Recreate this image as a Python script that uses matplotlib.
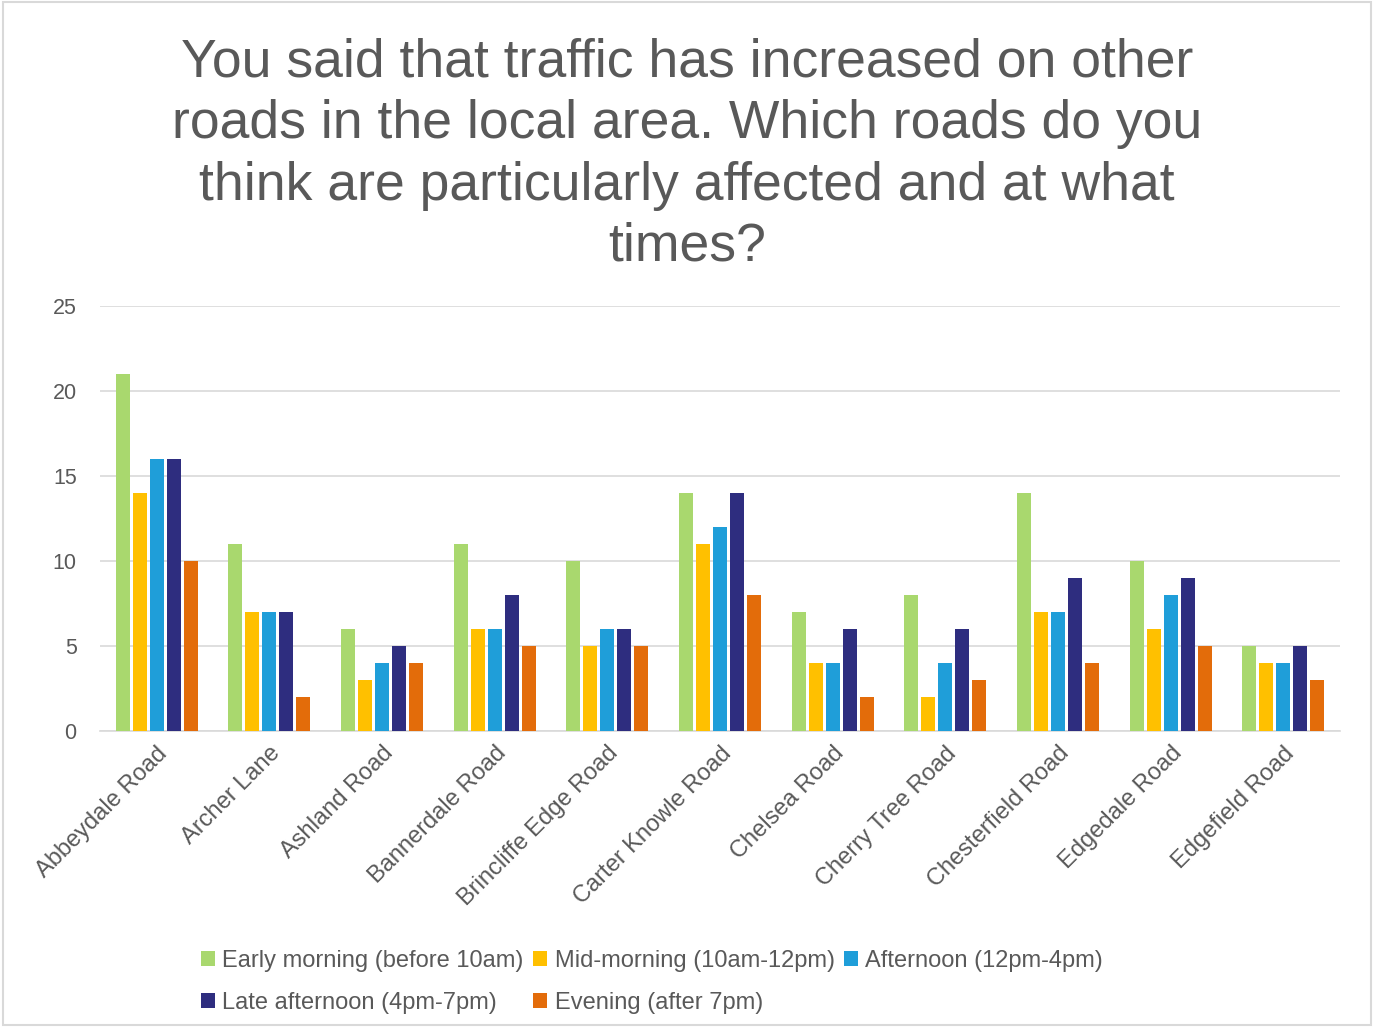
import numpy as np
import matplotlib.pyplot as plt
from matplotlib.patches import Rectangle

plt.rcParams['font.family'] = ['Liberation Sans', 'DejaVu Sans']

roads = ['Abbeydale Road', 'Archer Lane', 'Ashland Road', 'Bannerdale Road',
         'Brincliffe Edge Road', 'Carter Knowle Road', 'Chelsea Road',
         'Cherry Tree Road', 'Chesterfield Road', 'Edgedale Road', 'Edgefield Road']

early_morning = [21, 11, 6, 11, 10, 14, 7, 8, 14, 10, 5]
mid_morning = [14, 7, 3, 6, 5, 11, 4, 2, 7, 6, 4]
afternoon = [16, 7, 4, 6, 6, 12, 4, 4, 7, 8, 4]
late_afternoon = [16, 7, 5, 8, 6, 14, 6, 6, 9, 9, 5]
evening = [10, 2, 4, 5, 5, 8, 2, 3, 4, 5, 3]

series = [
    ('Early morning (before 10am)', early_morning, '#a9d86e'),
    ('Mid-morning (10am-12pm)', mid_morning, '#ffc000'),
    ('Afternoon (12pm-4pm)', afternoon, '#1f9ed9'),
    ('Late afternoon (4pm-7pm)', late_afternoon, '#2e2d7f'),
    ('Evening (after 7pm)', evening, '#e36c0a'),
]

fig = plt.figure(figsize=(13.74, 10.27), dpi=100)
fig.patches.append(Rectangle((0.002, 0.002), 0.996, 0.996, transform=fig.transFigure,
                             fill=False, edgecolor='#d9d9d9', linewidth=1.5))
ax = fig.add_axes([0.073, 0.288, 0.902, 0.414])

x = np.arange(len(roads))
pitch = 0.151
width = 0.125
bars = []
for i, (name, vals, color) in enumerate(series):
    bars.append(ax.bar(x + (i - 2) * pitch, vals, width, color=color, label=name, zorder=3))

ax.set_xlim(-0.5, len(roads) - 0.5)
ax.set_ylim(0, 25)
ax.set_yticks(range(0, 26, 5))
ax.yaxis.grid(True, color='#d9d9d9', linewidth=1.2, zorder=0)
for s in ['top', 'right', 'left']:
    ax.spines[s].set_visible(False)
ax.spines['bottom'].set_color('#d9d9d9')
ax.spines['bottom'].set_linewidth(1.2)
ax.tick_params(axis='both', length=0, labelsize=15.5, colors='#595959', pad=17)
ax.set_xticks(x)
ax.set_xticklabels(roads, rotation=45, ha='right', rotation_mode='anchor', fontsize=17)
ax.tick_params(axis='x', pad=8)

fig.text(0.5, 0.963, 'You said that traffic has increased on other\nroads in the local area. Which roads do you\n'
         'think are particularly affected and at what\ntimes?',
         ha='center', va='top', fontsize=38.5, color='#595959', linespacing=1.29)

# row-major order in a 3 column legend
order = [0, 3, 1, 4, 2]
fig.legend([bars[i] for i in order], [series[i][0] for i in order],
           loc='lower left', bbox_to_anchor=(0.131, -0.008), ncol=3, frameon=False,
           fontsize=17, labelcolor='#595959', handlelength=0.6, handleheight=0.6,
           handletextpad=0.3, columnspacing=0.4, labelspacing=0.85)

fig.savefig('out.png', dpi=100)
